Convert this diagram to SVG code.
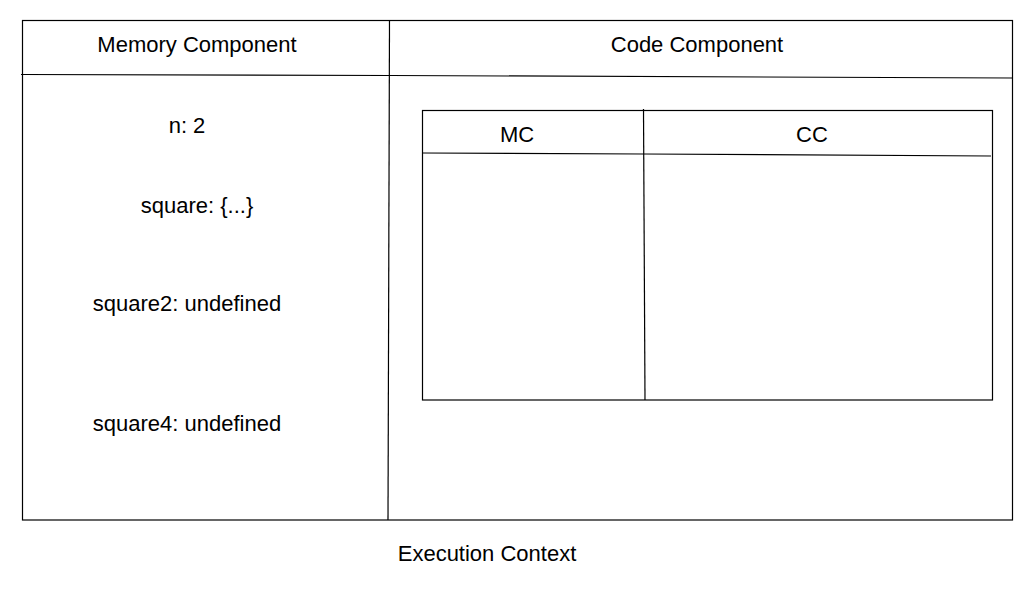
<svg xmlns="http://www.w3.org/2000/svg" width="1034" height="591" viewBox="0 0 1034 591">
<style>
.ln{stroke:#000;stroke-width:1.2;fill:none}
text{font-family:"Liberation Sans",Arial,sans-serif;font-size:22px;fill:#000;text-anchor:middle}
</style>
<rect width="1034" height="591" fill="#fff"/>
<g id="execution-context">
<rect class="ln" x="22.5" y="20.5" width="990" height="499.5"/>
<path class="ln" d="M21 74.5 L390 75.5 L1012.5 78"/>
<path class="ln" d="M389.5 20.5 L388 520"/>
<text x="487" y="561">Execution Context</text>
</g>
<g id="memory-component">
<text x="197" y="52">Memory Component</text>
<text x="187" y="133">n: 2</text>
<text x="197" y="213">square: {...}</text>
<text x="187" y="311">square2: undefined</text>
<text x="187" y="431">square4: undefined</text>
</g>
<g id="code-component">
<text x="697" y="52">Code Component</text>
</g>
<g id="inner-context">
<rect class="ln" x="422.5" y="110.5" width="570" height="289.5"/>
<path class="ln" d="M423 153 L643.5 154 L991 156"/>
<path class="ln" d="M643.5 109 L645 400"/>
<text x="517" y="142">MC</text>
<text x="812" y="142">CC</text>
</g>
<g id="connectors"></g>
</svg>
